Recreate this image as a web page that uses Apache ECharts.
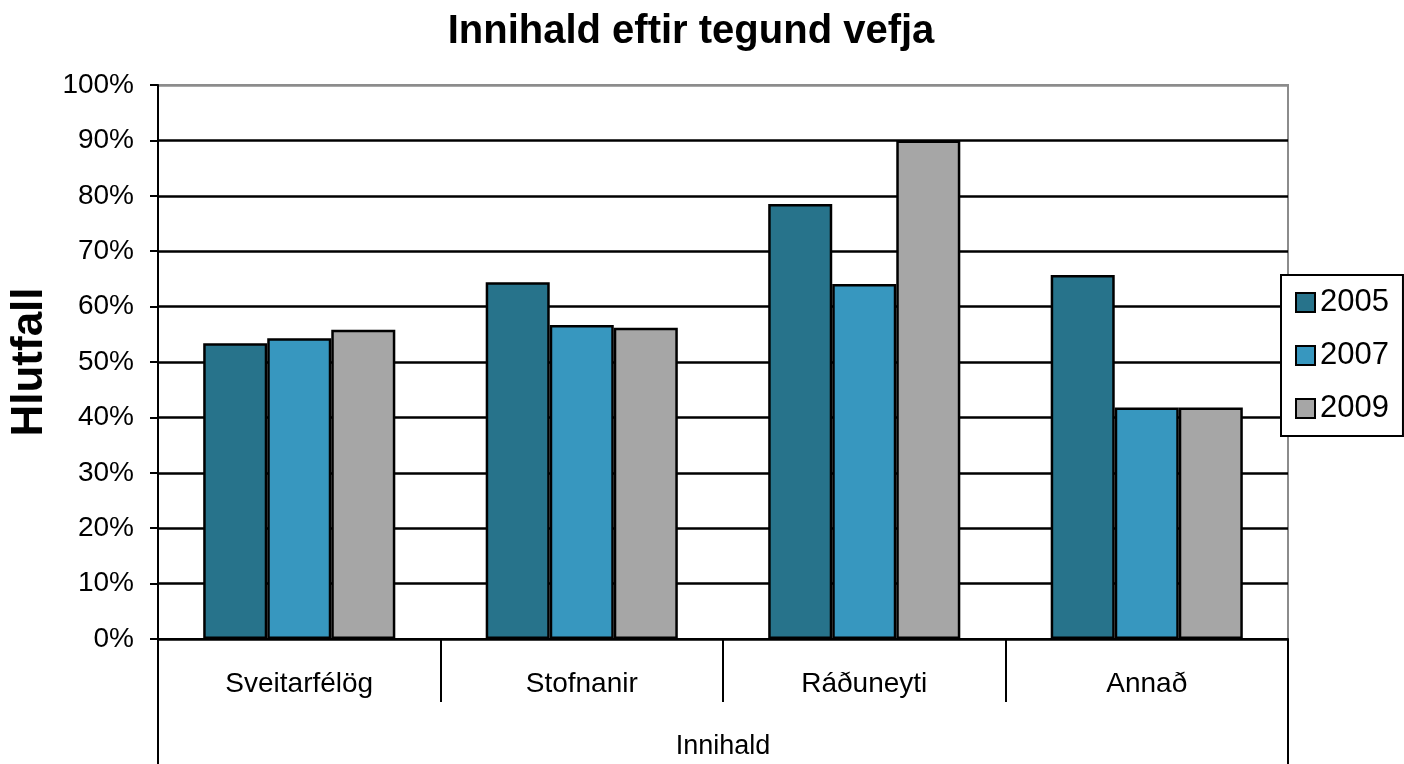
<!DOCTYPE html>
<html>
<head>
<meta charset="utf-8">
<script src="https://cdn.jsdelivr.net/npm/echarts@6/dist/echarts.min.js"></script>
<style>
  html, body { margin: 0; padding: 0; background: #fff; }
  #chart { width: 1404px; height: 764px; }
</style>
</head>
<body>
<div id="chart"></div>
<script>
// gögn lesin af myndinni (%)
var categories = ['Sveitarfélög', 'Stofnanir', 'Ráðuneyti', 'Annað'];
var years = ['2005', '2007', '2009'];
var values2005 = [53.4, 64.4, 78.5, 65.7];
var values2007 = [54.3, 56.7, 64.1, 41.8];
var values2009 = [55.8, 56.2, 90.0, 41.8];
var colors = ['#27738b', '#3797bf', '#a6a6a6'];

var font = 'Liberation Sans, Arial, sans-serif';
var chart = echarts.init(document.getElementById('chart'));

function bar(name, data, color) {
  return {
    name: name,
    type: 'bar',
    data: data,
    barGap: '0%',
    barCategoryGap: '32%',
    itemStyle: { color: color, borderColor: '#000', borderWidth: 2.5 }
  };
}

var option = {
  animation: false,
  textStyle: { fontFamily: font, color: '#000' },
  title: {
    text: 'Innihald eftir tegund vefja',
    left: 686,
    top: 7,
    textAlign: 'center',
    textStyle: { fontFamily: font, fontSize: 40, fontWeight: 'bold', color: '#000' }
  },
  legend: {
    orient: 'vertical',
    left: 1281,
    top: 275,
    padding: [12, 14, 12, 14],
    itemGap: 22,
    itemWidth: 19,
    itemHeight: 19,
    icon: 'rect',
    borderColor: '#000',
    borderWidth: 2,
    backgroundColor: '#fff',
    textStyle: { fontFamily: font, fontSize: 31, color: '#000', lineHeight: 30 },
    data: years
  },
  grid: {
    left: 158,
    right: 116,
    top: 85,
    bottom: 125,
    outerBoundsMode: 'none',
    show: true,
    borderColor: '#8c8c8c',
    borderWidth: 2
  },
  xAxis: [
    {
      type: 'category',
      data: categories,
      axisLine: { lineStyle: { color: '#000', width: 2 } },
      axisTick: { show: true, length: 63, lineStyle: { color: '#000', width: 2 } },
      axisLabel: { fontFamily: font, fontSize: 28, color: '#000', margin: 31 }
    },
    {
      type: 'category',
      position: 'bottom',
      offset: 63,
      data: ['Innihald'],
      axisLine: { show: false },
      axisTick: { show: true, length: 70, lineStyle: { color: '#000', width: 2 } },
      axisLabel: { fontFamily: font, fontSize: 27, color: '#000', margin: 31 }
    }
  ],
  yAxis: {
    type: 'value',
    min: 0,
    max: 100,
    interval: 10,
    name: 'Hlutfall',
    nameLocation: 'middle',
    nameGap: 106,
    nameRotate: 90,
    nameTextStyle: { fontFamily: font, fontSize: 44, fontWeight: 'bold', color: '#000' },
    axisLine: { show: true, lineStyle: { color: '#000', width: 2 } },
    axisTick: { show: true, length: 8, lineStyle: { color: '#000', width: 2 } },
    axisLabel: { fontFamily: font, fontSize: 28, color: '#000', margin: 24, formatter: '{value}%' },
    splitLine: {
      show: true,
      lineStyle: {
        color: ['#000', '#000', '#000', '#000', '#000', '#000', '#000', '#000', '#000', '#000', '#8c8c8c'],
        width: 2.5
      }
    }
  },
  series: [
    bar(years[0], values2005, colors[0]),
    bar(years[1], values2007, colors[1]),
    bar(years[2], values2009, colors[2])
  ]
};

chart.setOption(option);
</script>
</body>
</html>
